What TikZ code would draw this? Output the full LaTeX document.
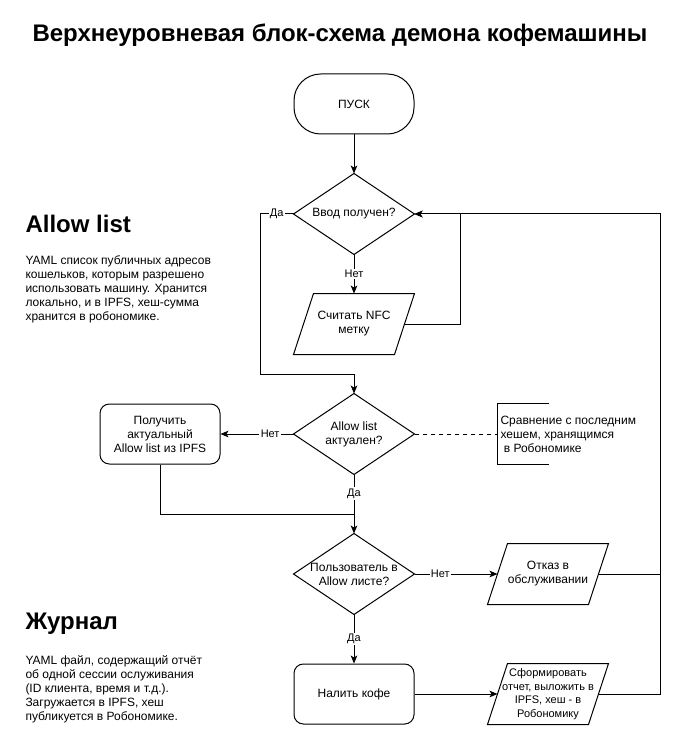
\documentclass[tikz,border=0pt]{standalone}
\usepackage{fontspec}
\setmainfont{Liberation Sans}
\usetikzlibrary{calc,arrows.meta}
\tikzset{
  base/.style={font=\fontsize{9}{10.5}\selectfont, align=center, inner sep=0pt},
  term/.style={base, draw, rounded corners=20pt, minimum width=90pt, minimum height=45pt},
  rbox/.style={base, draw, rounded corners=7pt, minimum width=90pt, minimum height=45pt},
  dia/.style={base, minimum width=90pt, minimum height=60pt},
  para/.style={base, minimum width=75pt, minimum height=45pt},
  lbl/.style={font=\fontsize{8.25}{10}\selectfont, fill=white, inner sep=1pt},
  conn/.style={-{Stealth[length=6pt,width=5pt,inset=1.5pt]}},
  heading/.style={font=\fontsize{18}{22}\selectfont\bfseries, inner sep=0pt},
  body/.style={font=\fontsize{9}{10.5}\selectfont, align=left, inner sep=0pt},
}
\newcommand{\diashape}[1]{\draw (#1.north) -- (#1.east) -- (#1.south) -- (#1.west) -- cycle;}
\newcommand{\parashape}[1]{\draw ($(#1.north west)+(10,0)$) -- ($(#1.north east)+(10,0)$) -- ($(#1.south east)+(-10,0)$) -- ($(#1.south west)+(-10,0)$) -- cycle;}
\begin{document}
\begin{tikzpicture}[x=0.75pt,y=-0.75pt,line width=0.75pt]
\path[use as bounding box, fill=white] (0,0) rectangle (689,745);

\node[heading] (title) at (340,35) {Верхнеуровневая блок-схема демона кофемашины};

% left texts
\node[heading, anchor=west] (h1) at (25,224) {Allow list};
\node[body, anchor=north west] (t1) at (25,255) {YAML список публичных адресов\\кошельков, которым разрешено\\использовать машину. Хранится\\локально, и в IPFS, хеш-сумма\\хранится в робономике.};
\node[heading, anchor=west] (h2) at (25,624) {Журнал};
\node[body, anchor=north west] (t2) at (25,655) {YAML файл, содержащий отчёт\\об одной сессии ослуживания\\(ID клиента, время и т.д.).\\Загружается в IPFS, хеш\\публикуется в Робономике.};

% nodes
\node[term] (start) at (354,104) {ПУСК};
\node[dia] (d1) at (354,214) {Ввод получен?}; \diashape{d1}
\node[para] (p1) at (354,324) {Считать NFC\\метку}; \parashape{p1}
\node[dia] (d2) at (354,434) {Allow list\\актуален?}; \diashape{d2}
\node[rbox] (r1) at (160,434) {Получить\\актуальный\\Allow list из IPFS};
\node[base, minimum width=37.5pt, minimum height=45pt] (ann) at (523,434) {};
\draw (ann.north east) -- (ann.north west) -- (ann.south west) -- (ann.south east);
\node[body, anchor=west] (annt) at (500,434) {Сравнение с последним\\хешем, хранящимся\\\hspace*{2.5pt}в Робономике};
\node[dia] (d3) at (354,574) {Пользователь в\\Allow листе?}; \diashape{d3}
\node[para] (p2) at (548,574) {Отказ в\\обслуживании}; \parashape{p2}
\node[rbox] (r2) at (354,694) {Налить кофе};
\node[para, font=\fontsize{8.25}{10.2}\selectfont] (p3) at (548,694) {Сформировать\\отчет, выложить в\\IPFS, хеш - в\\Робономику}; \parashape{p3}

\coordinate (c1) at (460,324);
\coordinate (c2) at (460,214);
\coordinate (c3) at (260,214);
\coordinate (c4) at (260,374);
\coordinate (c5) at (354,374);
\coordinate (c6) at (354,514);
\coordinate (c7) at (660,574);
\coordinate (c8) at (660,694);
\coordinate (c9) at (660,214);

% connectors
\draw[conn] (start.south) -- (d1.north);
\draw[conn] (d1.south) -- node[lbl]{Нет} (p1.north);
\draw[conn] (p1.east) -- (c1) -- (c2) -- (d1.east);
\draw[conn] (d1.west) -- node[lbl]{Да} (c3) -- (c4) -- (c5) -- (d2.north);
\draw[conn] (d2.west) -- node[lbl, pos=0.32]{Нет} (r1.east);
\draw[dashed] (d2.east) -- (ann.west);
\draw[conn] (d2.south) -- node[lbl, pos=0.32]{Да} (d3.north);
\draw (r1.south) |- (c6);
\draw[conn] (d3.east) -- node[lbl, pos=0.31]{Нет} (p2.west);
\draw[conn] (d3.south) -- node[lbl]{Да} (r2.north);
\draw[conn] (r2.east) -- (p3.west);
\draw (p2.east) -- (c7);
\draw[conn] (p3.east) -- (c8) -- (c9) -- (d1.east);
\end{tikzpicture}
\end{document}
